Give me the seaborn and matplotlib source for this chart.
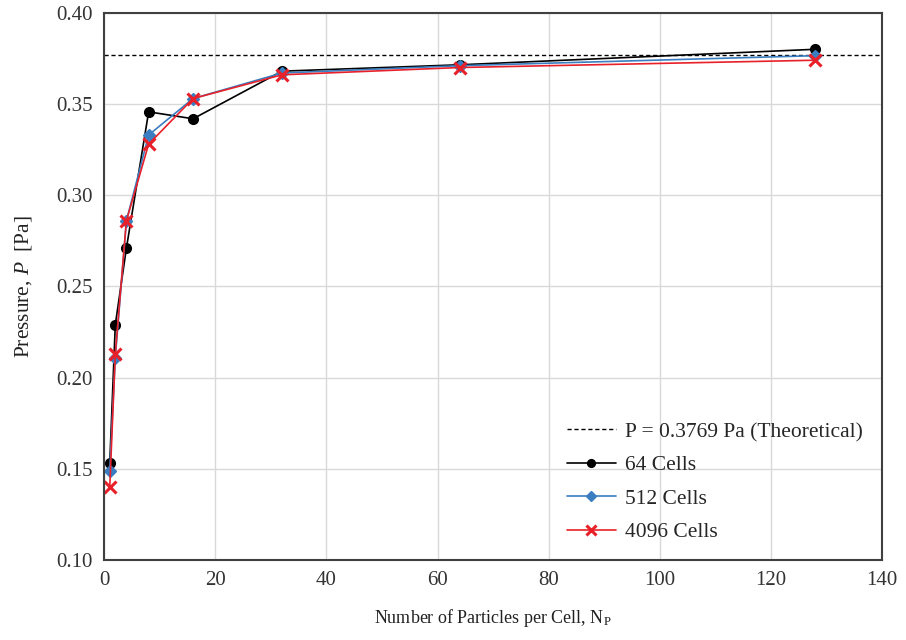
import numpy as np
import pandas as pd
import matplotlib
matplotlib.use("Agg")
import matplotlib.pyplot as plt
import seaborn as sns

particles = [1, 2, 4, 8, 16, 32, 64, 128]
p_64 = [0.153, 0.229, 0.271, 0.3457, 0.3419, 0.368, 0.3715, 0.380]
p_512 = [0.149, 0.211, 0.286, 0.333, 0.353, 0.367, 0.371, 0.3765]
p_4096 = [0.140, 0.213, 0.286, 0.328, 0.353, 0.366, 0.370, 0.374]
theoretical = 0.3769
series_names = ["64 Cells", "512 Cells", "4096 Cells"]

sns.set_theme(style="white")
plt.rcParams['font.family'] = ['Liberation Serif', 'DejaVu Serif']
plt.rcParams['mathtext.fontset'] = 'custom'
plt.rcParams['mathtext.rm'] = 'Liberation Serif'
plt.rcParams['mathtext.it'] = 'Liberation Serif:italic'

df = pd.DataFrame({
    "Np": particles * 3,
    "P": p_64 + p_512 + p_4096,
    "series": sum([[n] * len(particles) for n in series_names], []),
})

fig = plt.figure(figsize=(9.06, 6.40), dpi=100)
ax = fig.add_axes([0.115, 0.125, 0.8585, 0.855])

ax.axhline(theoretical, color="black", ls=(0, (3, 2)), lw=1.0,
           label=f"P = {theoretical} Pa (Theoretical)")

styles = {
    "64 Cells": dict(color="black", marker="o", ms=7, mec="black"),
    "512 Cells": dict(color="#3A7DC0", marker="D", ms=6, mec="#3A7DC0"),
    "4096 Cells": dict(color="#E8202A", marker="x", ms=9, mew=2.2),
}
for name in series_names:
    sub = df[df.series == name]
    st = styles[name]
    sns.lineplot(data=sub, x="Np", y="P", ax=ax, color=st["color"], lw=1.2,
                 marker=st["marker"], markersize=st["ms"],
                 markeredgecolor=st.get("mec", st["color"]),
                 markeredgewidth=st.get("mew", 1.0), label=name)

ax.set_xlim(0, 140)
ax.set_ylim(0.10, 0.40)
ax.set_xticks(np.arange(0, 141, 20))
ax.set_yticks(np.arange(0.10, 0.401, 0.05))
ax.set_yticklabels([f"{v:.2f}" for v in np.arange(0.10, 0.401, 0.05)])
ax.grid(True, color="#D9D9D9", lw=1.0)
ax.set_axisbelow(True)
for s in ax.spines.values():
    s.set_visible(True)
    s.set_color("#404040")
    s.set_linewidth(1.5)
ax.tick_params(axis="both", direction="in", length=5, width=1.2, color="#404040",
               labelsize=15, pad=8, labelcolor="#333333")
ax.set_xlabel("Number of Particles per Cell, N$_\\mathrm{P}$", fontsize=13, labelpad=12,
              color="#222222")
ax.set_ylabel("Pressure, $\\mathit{P}$  [Pa]", fontsize=15.4, labelpad=16, color="#222222")

leg = ax.legend(loc="lower right", frameon=False, fontsize=15.5, handlelength=2.3,
                handletextpad=0.4, labelspacing=0.62, markerscale=0.8,
                bbox_to_anchor=(1.0, -0.003))

fig.savefig("out.png", dpi=100)
